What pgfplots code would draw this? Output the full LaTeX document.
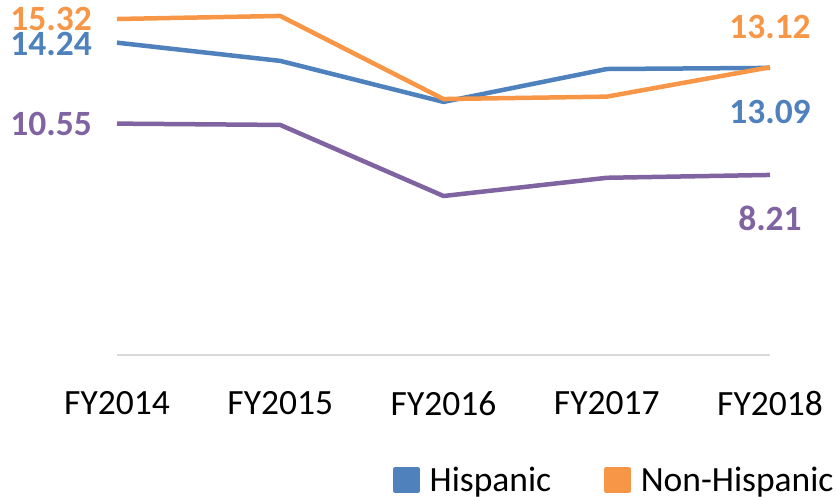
\documentclass[border=0pt]{standalone}
\usepackage{fontspec}
\setmainfont{Carlito}
\usepackage{pgfplots}
\pgfplotsset{compat=1.18}
\definecolor{cblue}{HTML}{4F81BD}
\definecolor{corange}{HTML}{F79646}
\definecolor{cpurple}{HTML}{8064A2}
\definecolor{cgrid}{HTML}{D9D9D9}
\begin{document}
\begin{tikzpicture}
\begin{axis}[
  at={(117pt,142pt)}, anchor=south west,
  scale only axis, width=653pt, height=350.9pt,
  xmin=0, xmax=4, ymin=0, ymax=16,
  hide y axis,
  axis x line*=bottom,
  x axis line style={draw=cgrid, line width=1.5pt},
  xtick={0,1,2,3,4},
  xticklabels={FY2014,FY2015,FY2016,FY2017,FY2018},
  major tick length=0pt,
  xticklabel style={font=\fontsize{35.5}{40}\selectfont, text=black, inner sep=0pt, anchor=north, yshift=-36pt},
  clip=false,
  legend columns=-1,
  legend style={draw=none, fill=none, at={(276pt,-125pt)}, anchor=west, inner sep=0pt,
    font=\fontsize{35.5}{40}\selectfont,
    /tikz/every even column/.append style={column sep=53pt},
    nodes={inner sep=0pt, anchor=west}},
  legend image code/.code={\fill[#1] (0pt,-11pt) rectangle (22pt,11pt); \path (32pt,0pt);},
  every axis plot/.append style={line width=4.5pt, line join=round},
]
\addplot[cblue, mark=none] coordinates {(0,14.24) (1,13.41) (2,11.54) (3,13.04) (4,13.09)};
\addlegendentry{Hispanic}
\addplot[corange, mark=none] coordinates {(0,15.32) (1,15.46) (2,11.67) (3,11.78) (4,13.12)};
\addlegendentry{Non-Hispanic}
\addplot[cpurple, mark=none] coordinates {(0,10.55) (1,10.49) (2,7.25) (3,8.08) (4,8.21)};
\addlegendentry{Total}
\begin{scope}[every node/.style={font=\bfseries\fontsize{35.5}{40}\selectfont, inner sep=0pt}]
\node[anchor=east, text=corange] at (axis cs:0,15.32) [xshift=-25pt] {15.32};
\node[anchor=east, text=cblue] at (axis cs:0,14.24) [xshift=-25pt, yshift=-1pt] {14.24};
\node[anchor=east, text=cpurple] at (axis cs:0,10.55) [xshift=-25pt] {10.55};
\node[text=corange] at (axis cs:4,13.12) [yshift=40pt] {13.12};
\node[text=cblue] at (axis cs:4,13.09) [yshift=-44pt] {13.09};
\node[text=cpurple] at (axis cs:4,8.21) [yshift=-43pt] {8.21};
\end{scope}
\end{axis}
\pgfresetboundingbox
\useasboundingbox (0,0) rectangle (836pt,497pt);
\end{tikzpicture}
\end{document}
